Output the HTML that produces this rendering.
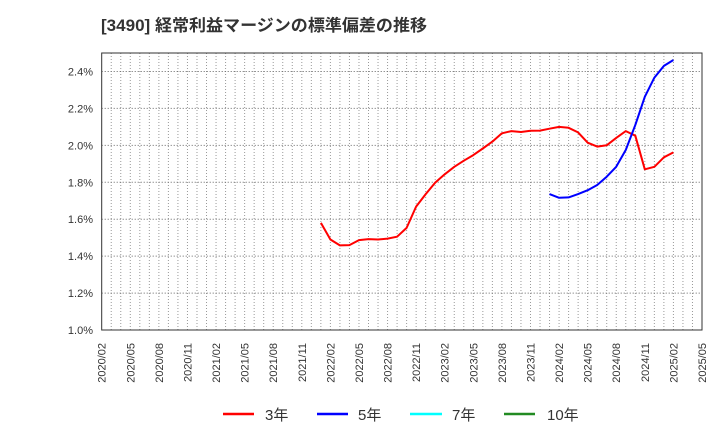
<!DOCTYPE html>
<html><head><meta charset="utf-8"><style>
body{margin:0;background:#fff;}
svg{display:block;font-family:"Liberation Sans","Noto Sans CJK JP",sans-serif;}
</style></head><body>
<svg id="chart" width="720" height="440" viewBox="0 0 720 440">
<text x="101" y="31" font-size="16.5" font-weight="bold" fill="#333" textLength="326" lengthAdjust="spacingAndGlyphs">[3490]  経常利益マージンの標準偏差の推移</text>
<g id="grid"></g>
<g id="yaxis"></g>
<g id="xaxis"></g>
<g id="series"></g>
<rect x="101.7" y="53" width="600.3" height="277" fill="none" stroke="#333" stroke-width="1"/>
<g>
<g><line x1="223" y1="414" x2="254" y2="414" stroke="#ff0000" stroke-width="2.5"/><text x="265" y="420" font-size="15" fill="#333">3年</text></g>
<g><line x1="317" y1="414" x2="348" y2="414" stroke="#0000ff" stroke-width="2.5"/><text x="358" y="420" font-size="15" fill="#333">5年</text></g>
<g><line x1="410" y1="414" x2="442" y2="414" stroke="#00ffff" stroke-width="2.5"/><text x="452" y="420" font-size="15" fill="#333">7年</text></g>
<g><line x1="504" y1="414" x2="535" y2="414" stroke="#228b22" stroke-width="2.5"/><text x="547" y="420" font-size="15" fill="#333">10年</text></g>
</g>
</svg>
<script>
const yTicks=[1.0,1.2,1.4,1.6,1.8,2.0,2.2,2.4];
const xTickLabels=["2020/02","2020/05","2020/08","2020/11","2021/02","2021/05","2021/08","2021/11","2022/02","2022/05","2022/08","2022/11","2023/02","2023/05","2023/08","2023/11","2024/02","2024/05","2024/08","2024/11","2025/02","2025/05"];
const red3Start=23;
const red3=[1.58,1.49,1.458,1.46,1.487,1.492,1.49,1.495,1.505,1.553,1.668,1.736,1.798,1.843,1.884,1.917,1.947,1.983,2.02,2.065,2.077,2.072,2.079,2.08,2.09,2.10,2.095,2.07,2.014,1.993,2.0,2.04,2.077,2.052,1.87,1.884,1.935,1.962];
const blue5Start=47;
const blue5=[1.736,1.716,1.718,1.736,1.757,1.785,1.83,1.884,1.975,2.11,2.263,2.367,2.43,2.462];
const L=101.7,R=702,T=53,B=330,NM=63,YMIN=1.0,YMAX=2.5;
const X=i=>L+(R-L)*i/NM;
const Y=v=>B-(v-YMIN)/(YMAX-YMIN)*(B-T);
const NS="http://www.w3.org/2000/svg";
function mk(tag,attrs,parent){const e=document.createElementNS(NS,tag);for(const k in attrs)e.setAttribute(k,attrs[k]);parent.appendChild(e);return e;}
const grid=document.getElementById('grid'),ya=document.getElementById('yaxis'),xa=document.getElementById('xaxis'),ser=document.getElementById('series');
for(let i=1;i<NM;i++){const l=mk('line',{x1:X(i),x2:X(i),y1:T,y2:B,stroke:'#999','stroke-width':1,'stroke-dasharray':'1,2'},grid);

}
yTicks.forEach(v=>{if(v>YMIN){const l=mk('line',{x1:L,x2:R,y1:Y(v),y2:Y(v),stroke:'#666','stroke-width':1,'stroke-dasharray':'1,2'},grid);

}
const t=mk('text',{x:93,y:Y(v)+4,'text-anchor':'end','font-size':11,fill:'#333'},ya);


t.textContent=v.toFixed(1)+'%';});
xTickLabels.forEach((s,k)=>{const x=X(k*3);const t=mk('text',{x:0,y:0,transform:`translate(${x+4},343) rotate(-90)`,'text-anchor':'end','font-size':11,fill:'#333'},xa);


t.textContent=s;});
function line(vals,start,color,name){const p=vals.map((v,i)=>X(start+i).toFixed(1)+','+Y(v).toFixed(1)).join(' ');
const e=mk('polyline',{points:p,fill:'none',stroke:color,'stroke-width':2,'stroke-linejoin':'round'},ser);

}
line(red3,red3Start,'#ff0000','line-3y');
line(blue5,blue5Start,'#0000ff','line-5y');
</script>
</body></html>
